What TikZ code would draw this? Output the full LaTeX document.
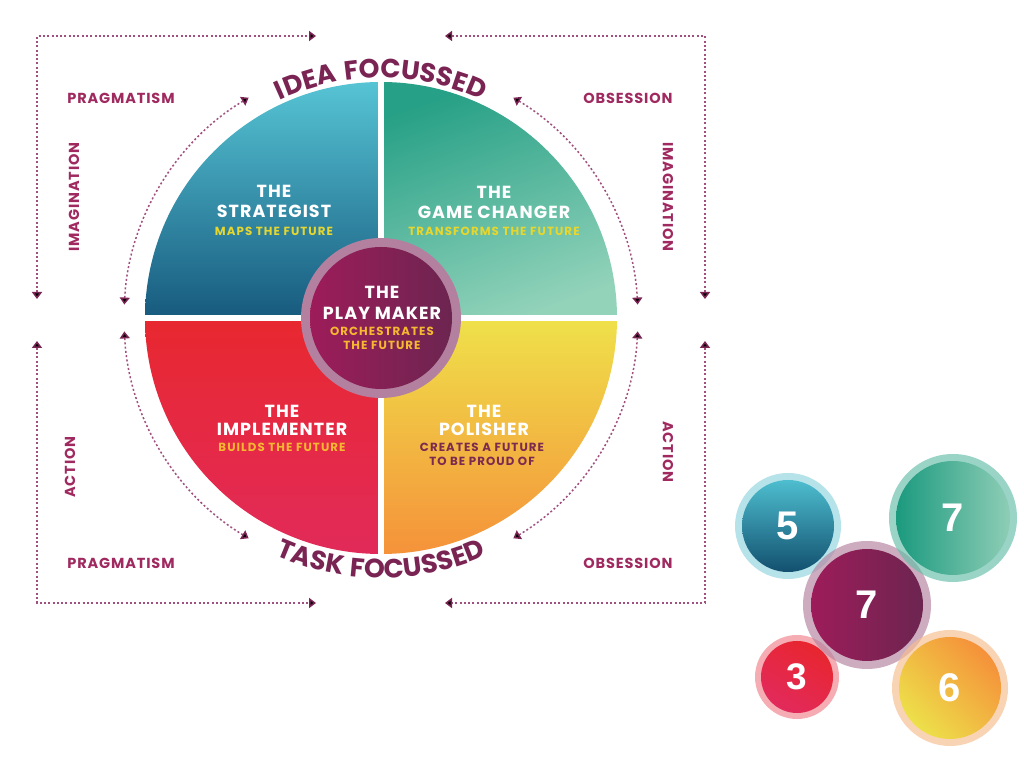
\documentclass[tikz,border=0pt]{standalone}
\usepackage{fontspec}
\setmainfont{Poppins}
\newfontfamily\ttlfont{Poppins}[LetterSpace=6]
\newfontfamily\subfont{Poppins}[LetterSpace=9]
\newfontfamily\sidefont{Poppins}[LetterSpace=6]
\newfontfamily\arcfont{Poppins}[LetterSpace=6]
\newfontfamily\digitfont{Liberation Sans}
\usetikzlibrary{arrows.meta,decorations.text,calc}
\definecolor{plum}{HTML}{7A2454}
\definecolor{sidec}{HTML}{A02A60}
\definecolor{dotc}{HTML}{A0507F}
\definecolor{tlTop}{HTML}{56C4D4}
\definecolor{tlBot}{HTML}{175A7E}
\definecolor{trTop}{HTML}{26A086}
\definecolor{trBot}{HTML}{92D3BA}
\definecolor{blTop}{HTML}{E8282F}
\definecolor{blBot}{HTML}{E22A5A}
\definecolor{brTop}{HTML}{EFE14A}
\definecolor{brBot}{HTML}{F5923A}
\definecolor{pmL}{HTML}{9D1C5A}
\definecolor{pmR}{HTML}{6C2550}
\definecolor{pmRing}{HTML}{B3819F}
\definecolor{yelA}{HTML}{E6D62E}
\definecolor{yelB}{HTML}{F5B830}
\definecolor{polc}{HTML}{7B2A50}
\definecolor{r5}{HTML}{8FD4DF}
\definecolor{t5}{HTML}{4EBECF}
\definecolor{d5}{HTML}{12506F}
\definecolor{r3}{HTML}{F0808A}
\definecolor{t3}{HTML}{E8262F}
\definecolor{d3}{HTML}{E22A5C}
\definecolor{rg}{HTML}{64BEA8}
\definecolor{lg}{HTML}{1B9A7E}
\definecolor{dg}{HTML}{8ECDB6}
\definecolor{r6}{HTML}{F7BE8C}
\definecolor{t6}{HTML}{F5913A}
\definecolor{d6}{HTML}{EDE04A}
\begin{document}
\begin{tikzpicture}[x=1pt,y=1pt,
  >={Triangle[width=10pt,length=7pt,color=plum]},
  ttl/.style={font=\ttlfont\bfseries\fontsize{17.5}{17.5}\selectfont, text=white, inner sep=0},
  sub/.style={font=\subfont\bfseries\fontsize{11.8}{11.8}\selectfont, inner sep=0},
  side/.style={font=\sidefont\bfseries\fontsize{14.5}{14.5}\selectfont, text=sidec, inner sep=0},
  dots/.style={draw=dotc, line width=1.5pt, dash pattern=on 2pt off 2.3pt, <->},
  num/.style={font=\digitfont\bfseries\fontsize{40}{40}\selectfont, text=white, circle, inner sep=0},
  ring/.style={opacity=0.65}
]
\useasboundingbox (0,0) rectangle (1024,765);
\fill[white] (0,0) rectangle (1024,765);
\coordinate (C) at (381,447);

% quadrants
\shade[top color=tlTop, bottom color=tlBot] (C) -- ++(180:236) arc[start angle=180, end angle=90, radius=236] -- cycle;
\shade[top color=trTop, bottom color=trBot, shading angle=20] (C) -- ++(90:236) arc[start angle=90, end angle=0, radius=236] -- cycle;
\shade[top color=blTop, bottom color=blBot] (C) -- ++(270:236) arc[start angle=270, end angle=180, radius=236] -- cycle;
\shade[top color=brTop, bottom color=brBot] (C) -- ++(0:236) arc[start angle=0, end angle=-90, radius=236] -- cycle;
\draw[white, line width=6pt] ($(C)+(-240,0)$) -- ($(C)+(240,0)$);
\draw[white, line width=6pt] ($(C)+(0,-240)$) -- ($(C)+(0,240)$);

% centre
\fill[pmRing] (C) circle (80);
\shade[left color=pmL, right color=pmR] (C) circle (71);

% quadrant texts
\node[ttl] (s1) at (274,574) {THE};
\node[ttl] (s2) at (274,554) {STRATEGIST};
\node[sub, text=yelA] (s3) at (274,534) {MAPS THE FUTURE};
\node[ttl] (g1) at (494,573) {THE};
\node[ttl] (g2) at (494,553) {GAME CHANGER};
\node[sub, text=yelA] (g3) at (494,534) {TRANSFORMS THE FUTURE};
\node[ttl] (i1) at (282,354) {THE};
\node[ttl] (i2) at (282,336) {IMPLEMENTER};
\node[sub, text=yelB] (i3) at (282,318) {BUILDS THE FUTURE};
\node[ttl] (p1) at (484,354) {THE};
\node[ttl] (p2) at (484,336) {POLISHER};
\node[sub, text=polc] (p3) at (482,318) {CREATES A FUTURE};
\node[sub, text=polc] (p4) at (482,304) {TO BE PROUD OF};
\node[ttl] (m1) at (382,473) {THE};
\node[ttl] (m2) at (382,452) {PLAY MAKER};
\node[sub, text=yelB] (m3) at (382,434) {ORCHESTRATES};
\node[sub, text=yelB] (m4) at (382,420) {THE FUTURE};

% arc texts
\path[decorate, decoration={text along path, text align=center, text color=plum,
  text={|\arcfont\bfseries\fontsize{26.5}{26.5}\selectfont|IDEA FOCUSSED}}]
  ($(C)+(160:240)$) arc[start angle=160, end angle=20, radius=240];
\path[decorate, decoration={text along path, text align=center, text color=plum,
  text={|\arcfont\bfseries\fontsize{26.5}{26.5}\selectfont|TASK FOCUSSED}}]
  ($(C)+(200:260)$) arc[start angle=200, end angle=340, radius=260];

% side labels
\node[side] (pr1) at (121,667) {PRAGMATISM};
\node[side] (pr2) at (121,202) {PRAGMATISM};
\node[side] (ob1) at (628,667) {OBSESSION};
\node[side] (ob2) at (628,202) {OBSESSION};
\node[side, rotate=90] (im1) at (74,568) {IMAGINATION};
\node[side, rotate=-90] (im2) at (668,568) {IMAGINATION};
\node[side, rotate=90] (ac1) at (70,298) {ACTION};
\node[side, rotate=-90] (ac2) at (668,313) {ACTION};

% outer brackets
\coordinate (tl1) at (37,466);
\coordinate (tl2) at (37,729);
\coordinate (tl3) at (316,729);
\coordinate (tr1) at (445,729);
\coordinate (tr2) at (705,729);
\coordinate (tr3) at (705,466);
\coordinate (bl1) at (37,424);
\coordinate (bl2) at (37,162);
\coordinate (bl3) at (316,162);
\coordinate (br1) at (705,424);
\coordinate (br2) at (705,162);
\coordinate (br3) at (445,162);
\draw[dots] (tl1) -- (tl2) -- (tl3);
\draw[dots] (tr1) -- (tr2) -- (tr3);
\draw[dots] (bl1) -- (bl2) -- (bl3);
\draw[dots] (br1) -- (br2) -- (br3);

% inner arcs
\draw[dots] ($(C)+(177:257)$) arc[start angle=177, end angle=121, radius=257];
\draw[dots] ($(C)+(183:257)$) arc[start angle=183, end angle=239, radius=257];
\draw[dots] ($(C)+(3:257)$) arc[start angle=3, end angle=59, radius=257];
\draw[dots] ($(C)+(-3:257)$) arc[start angle=-3, end angle=-59, radius=257];

% bubbles
\fill[ring, color=r5] (788,239) circle (53);
\node[num, minimum size=92, top color=t5, bottom color=d5] (b5) at (788,239) {5};
\fill[ring, color=r3] (797,88) circle (42);
\node[num, minimum size=72, font=\digitfont\bfseries\fontsize{37}{37}\selectfont, top color=t3, bottom color=d3, shading angle=-30] (b3) at (797,88) {3};
\fill[ring, color=pmRing] (867,160) circle (64);
\node[num, minimum size=112, left color=pmL, right color=pmR] (bc) at (867,160) {7};
\fill[ring, color=rg] (953,247) circle (64);
\node[num, minimum size=114, left color=lg, right color=dg] (bg) at (953,247) {7};
\fill[ring, color=r6] (950,77) circle (58);
\node[num, minimum size=102, top color=t6, bottom color=d6, shading angle=-45] (b6) at (950,77) {6};
\end{tikzpicture}
\end{document}
